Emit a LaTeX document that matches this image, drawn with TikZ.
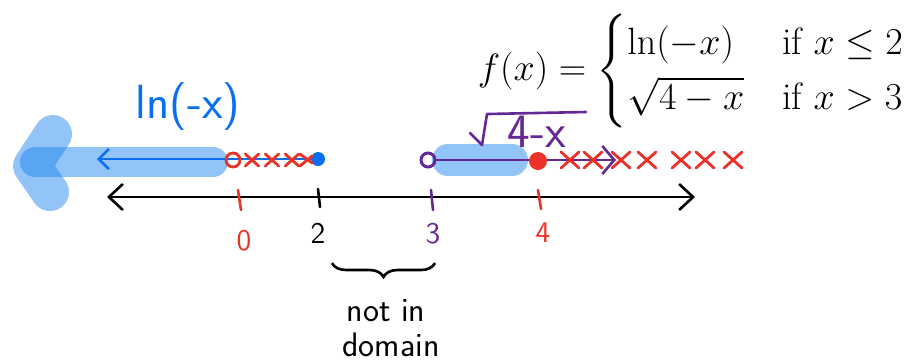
\documentclass[tikz,border=0pt]{standalone}
\usepackage{amsmath}
\usetikzlibrary{arrows.meta}
\usetikzlibrary{decorations.pathreplacing}
\definecolor{inkblue}{RGB}{10,110,240}
\definecolor{inkred}{RGB}{235,50,40}
\definecolor{inkpurple}{RGB}{100,40,150}
\definecolor{hlblue}{RGB}{25,130,240}
\tikzset{hand/.style = {font=\sffamily\fontsize{17}{20}\selectfont}}
\tikzset{bighand/.style = {font=\sffamily\fontsize{24}{28}\selectfont}}
\tikzset{num/.style = {font=\sffamily\fontsize{15}{18}\selectfont}}
\tikzset{hilite/.style = {hlblue, opacity=.47, line cap=round, line join=round}}
\tikzset{tick/.style = {line width=1.3pt, line cap=round}}
\tikzset{cross/.pic = {\draw[inkred, line width=1.4pt, line cap=round]
                        (-9,-8) -- (9,8) (-9,8) -- (9,-8);}}
\tikzset{barb/.tip = {Straight Barb[length=7pt,width=13pt,line width=1.3pt]}}

\begin{document}
\begin{tikzpicture}[x=0.5pt, y=-0.5pt]
      \useasboundingbox (0,0) rectangle (914,361);

      % highlights
      \draw[hilite, line width=19pt] (53,134) -- (32,166) -- (50,192);
      \draw[hilite, line width=15pt] (213,162) -- (35,162);
      \draw[hilite, line width=16pt] (448,160) -- (512,160);

      % number line
      \coordinate (axl) at (107,197);
      \coordinate (axr) at (695,197);
      \draw[line width=1.3pt, barb-barb] (axl) -- (axr);
      \draw[tick, inkred] (238,190) -- (241,210);
      \draw[tick] (318,189) -- (320,207);
      \draw[tick, inkpurple] (431,190) -- (433,210);
      \draw[tick, inkred] (538,190) -- (541,209);
      \node[num, inkred] (n0) at (244,241) {0};
      \node[num] (n2) at (318,233) {2};
      \node[num, inkpurple] (n3) at (433,234) {3};
      \node[num, inkred] (n4) at (543,233) {4};

      % ln(-x) piece
      \coordinate (lnend) at (97,159);
      \fill[inkblue] (318,159) circle (7) coordinate (lndot);
      \draw[inkblue, line width=1.3pt, {Straight Barb[length=5pt,width=10pt,line width=1.3pt]}-] (lnend) -- (lndot);
      \node[bighand, inkblue] (lnlab) at (188,107) {ln(-x)};
      \draw[inkred, line width=1.4pt] (233,160) circle (7);
      \foreach \x in {252,272,292}
        \pic[scale=.75] at (\x,160) {cross};
      \draw[inkred, line width=1.4pt, line cap=round] (300,154) -- (312,163) (300,166) -- (312,156);

      % sqrt(4-x) piece
      \draw[inkpurple, line width=1.5pt] (428,160) circle (7) coordinate (sqo);
      \coordinate (sqend) at (616,160);
      \draw[inkpurple, line width=1.3pt, -{Straight Barb[length=6pt,width=14pt,line width=1.3pt]}]
        (435,160) -- (sqend);
      \foreach \x in {570,593,621,647,681,705,733}
        \pic at (\x,160) {cross};
      \fill[inkred] (538,161) circle (9) coordinate (sqdot);
      \draw[inkpurple, line width=1.3pt, line cap=round, line join=round]
        (470,133) -- (482,145) -- (487,114) -- (586,112);
      \node[bighand, inkpurple] (sqlab) at (537,132) {4-x};

      % gap
      \draw[line width=1.3pt, decorate, decoration={brace, mirror, amplitude=7pt}]
        (332,263) -- (435,263);
      \node[hand] (gap1) at (386,311) {not in};
      \node[hand] (gap2) at (391,345) {domain};

      % definition
      \node[anchor=east, scale=1.1, inner sep=0pt, font=\fontsize{17.28}{21}\selectfont] (fdef) at (906,71)
        {$f(x) = \begin{cases} \ln(-x) & \text{if } x \leq 2 \\
                              \sqrt{4-x} & \text{if } x > 3 \end{cases}$};
    \end{tikzpicture}
\end{document}
